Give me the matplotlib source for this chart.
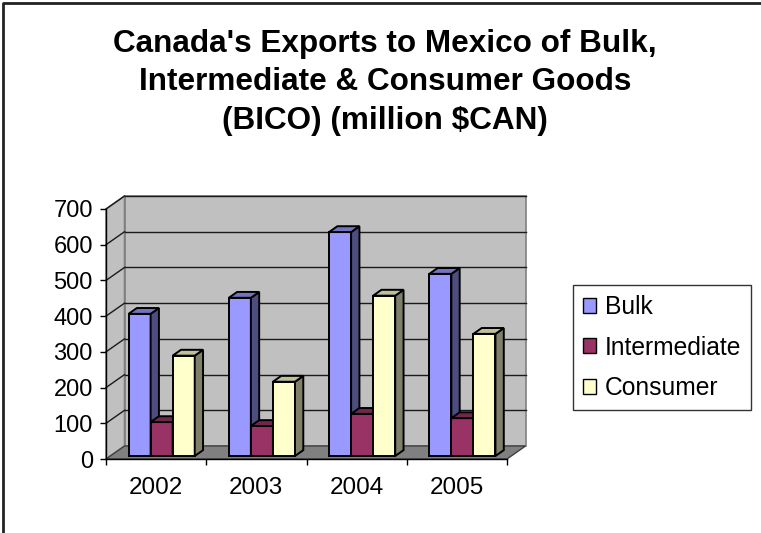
import matplotlib
matplotlib.use("Agg")
import matplotlib.pyplot as plt
from matplotlib.patches import Polygon, Rectangle, Patch
from matplotlib.lines import Line2D

plt.rcParams['font.family'] = ['Liberation Sans', 'DejaVu Sans']

# Data (million $CAN)
years = ['2002', '2003', '2004', '2005']
series_names = ['Bulk', 'Intermediate', 'Consumer']
bulk = [398, 443, 627, 510]
intermediate = [95, 84, 118, 106]
consumer = [281, 208, 449, 342]
yticks = [0, 100, 200, 300, 400, 500, 600, 700]

# face colours: front, side, top
face_colors = [
    ('#9999ff', '#4d4d80', '#7373bf'),
    ('#993366', '#4d1a33', '#73264d'),
    ('#ffffcc', '#80806a', '#bfbf99'),
]

W, H = 761, 533
fig = plt.figure(figsize=(W / 100, H / 100), dpi=100)
fig.patch.set_facecolor('white')

# 3-D projection offsets in data units
ymax = 700
wall_dx, wall_dy = 0.185, 36.4      # full depth of the floor
bar_dx, bar_dy = 0.083, 16.4        # depth of a bar
f0 = 0.23                           # depth at which the bar fronts stand
bar_w = 0.22
bar_off = 0.225

px_x = 100.25                        # pixels per category
px_y = 250 / 700                     # pixels per unit
ax_left, ax_bottom0 = 106, 459
ax = fig.add_axes([ax_left / W, (H - ax_bottom0) / H,
                   (4 + wall_dx) * px_x / W, (ymax + wall_dy) * px_y / H])
ax.set_xlim(0, 4 + wall_dx)
ax.set_ylim(0, ymax + wall_dy)
ax.patch.set_visible(False)

n = len(years)
wall_edge = '#808080'
# back wall
ax.add_patch(Rectangle((wall_dx, wall_dy), n, ymax, facecolor='#c0c0c0',
                       edgecolor=wall_edge, lw=1.2, zorder=1, clip_on=False))
# left side wall
ax.add_patch(Polygon([(0, 0), (0, ymax), (wall_dx, ymax + wall_dy), (wall_dx, wall_dy)],
                     closed=True, facecolor='#c0c0c0', edgecolor=wall_edge, lw=1.2,
                     zorder=1, clip_on=False))
# floor
ax.add_patch(Polygon([(0, 0), (n, 0), (n + wall_dx, wall_dy), (wall_dx, wall_dy)],
                     closed=True, facecolor='#808080', edgecolor='#404040', lw=1.0,
                     zorder=1.5, clip_on=False))

# gridlines on the walls
for v in yticks[1:]:
    ax.plot([wall_dx, n + wall_dx], [v + wall_dy, v + wall_dy], color='#1a1a1a',
            lw=1.0, zorder=2, clip_on=False)
    ax.plot([0, wall_dx], [v, v + wall_dy], color='#1a1a1a', lw=1.0, zorder=2,
            clip_on=False)

# 3-D bars, painted left to right so each bar covers its neighbour's side
all_series = [bulk, intermediate, consumer]
base = f0 * wall_dy
z = 3
for i in range(n):
    for j, vals in enumerate(all_series):
        front, side, top = face_colors[j]
        x0 = i + bar_off + j * bar_w
        x1 = x0 + bar_w
        y0 = base
        y1 = base + vals[i]
        ax.add_patch(Polygon([(x0, y0), (x1, y0), (x1, y1), (x0, y1)], closed=True,
                             facecolor=front, edgecolor='black', lw=1.4, zorder=z,
                             clip_on=False, joinstyle='miter'))
        ax.add_patch(Polygon([(x1, y0), (x1 + bar_dx, y0 + bar_dy),
                              (x1 + bar_dx, y1 + bar_dy), (x1, y1)], closed=True,
                             facecolor=side, edgecolor='black', lw=1.4, zorder=z,
                             clip_on=False, joinstyle='miter'))
        ax.add_patch(Polygon([(x0, y1), (x1, y1), (x1 + bar_dx, y1 + bar_dy),
                              (x0 + bar_dx, y1 + bar_dy)], closed=True,
                             facecolor=top, edgecolor='black', lw=1.4, zorder=z,
                             clip_on=False, joinstyle='miter'))
        z += 0.01

# axes lines and ticks
for s in ('top', 'right'):
    ax.spines[s].set_visible(False)
ax.spines['left'].set_bounds(0, ymax)
ax.spines['bottom'].set_bounds(0, n)
for s in ('left', 'bottom'):
    ax.spines[s].set_color('black')
    ax.spines[s].set_linewidth(1.0)
    ax.spines[s].set_zorder(5)
ax.set_yticks(yticks)
ax.set_yticklabels([str(v) for v in yticks])
ax.set_xticks(range(n + 1))
ax.set_xticklabels([])
ax.set_xticks([i + 0.5 for i in range(n)], minor=True)
ax.set_xticklabels(years, minor=True)
ax.tick_params(axis='y', direction='out', length=4.5, width=1.0, pad=5,
               labelsize=17, colors='black')
ax.tick_params(axis='x', which='major', direction='out', length=4.5, width=1.0)
ax.tick_params(axis='x', which='minor', length=0, pad=13, labelsize=17.5)

# title
fig.text(385 / W, 1 - 29 / H,
         "Canada's Exports to Mexico of Bulk,\nIntermediate & Consumer Goods\n(BICO) (million $CAN)",
         ha='center', va='top', fontsize=22.7, fontweight='bold', linespacing=1.36)

# legend
handles = [Patch(facecolor=c[0], edgecolor='black', lw=1.0) for c in face_colors]
leg = fig.legend(handles, series_names, loc='upper left',
                 bbox_to_anchor=(573 / W, 1 - 285 / H), frameon=True, fancybox=False,
                 shadow=False, fontsize=17.7, handlelength=0.55, handleheight=0.55,
                 handletextpad=0.35, labelspacing=0.68, borderpad=0.4, borderaxespad=0)
leg.get_frame().set_edgecolor('black')
leg.get_frame().set_linewidth(1.0)

# outer chart border (left and top edges)
fig.add_artist(Line2D([3 / W, 3 / W, 1], [0, 1 - 2.5 / H, 1 - 2.5 / H],
                      transform=fig.transFigure, color='#222222', lw=2.0))

fig.savefig('out.png', dpi=100)
